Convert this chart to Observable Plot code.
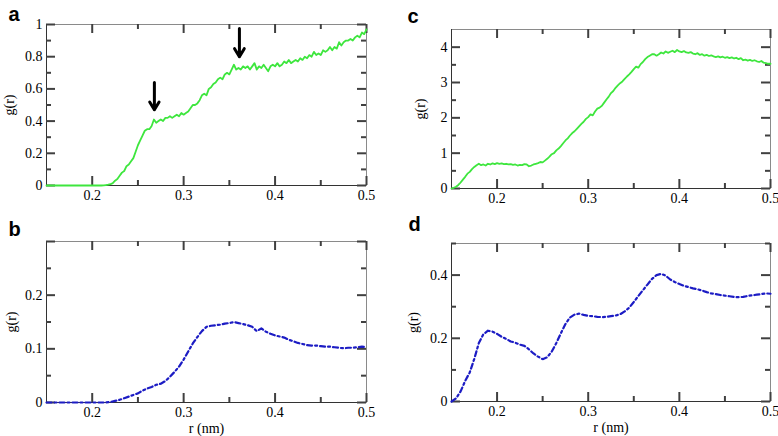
<!DOCTYPE html>
<html><head><meta charset="utf-8">
<script src="https://cdn.jsdelivr.net/npm/d3@7"></script>
<script src="https://cdn.jsdelivr.net/npm/@observablehq/plot@0.6"></script>
<style>
html,body{margin:0;padding:0;background:#fff;}
#chart{position:relative;width:778px;height:436px;overflow:hidden;background:#fff;}
#chart svg{position:absolute;overflow:visible;}
</style></head><body><div id="chart"></div>
<script>
// ---- data ----
const rStart = 0.15;
const stepGreen = 0.0025;   // sampling of the green curves (a, c)
const stepBlue = 0.005;     // sampling of the blue curves (b, d)

// panel a: g(r), rows of 10 samples (0.025 nm per row)
const gA = [
  0,0,0,0,0,0,0,0,0,0,
  0,0,0,0,0,0,0,0,0,0,
  0,0,0,0,0,0.001,0.003,0.005,0.008,0.015,
  0.03,0.04,0.06,0.08,0.09,0.12,0.13,0.15,0.17,0.21,
  0.25,0.28,0.31,0.34,0.35,0.35,0.37,0.41,0.39,0.40,
  0.41,0.40,0.42,0.42,0.43,0.42,0.43,0.44,0.43,0.45,
  0.44,0.45,0.46,0.48,0.50,0.50,0.51,0.53,0.56,0.57,
  0.56,0.60,0.61,0.63,0.64,0.66,0.67,0.66,0.69,0.70,
  0.69,0.72,0.75,0.72,0.73,0.72,0.74,0.73,0.74,0.72,
  0.74,0.76,0.72,0.74,0.73,0.75,0.73,0.71,0.74,0.75,
  0.74,0.76,0.74,0.75,0.77,0.76,0.78,0.76,0.77,0.78,
  0.77,0.79,0.78,0.80,0.79,0.81,0.80,0.83,0.81,0.82,
  0.81,0.84,0.83,0.84,0.86,0.84,0.86,0.85,0.89,0.87,
  0.89,0.90,0.90,0.91,0.90,0.92,0.93,0.92,0.95,0.94,
  0.97
];
// panel c
const gC = [
  0.00,0.02,0.05,0.10,0.17,0.25,0.33,0.42,0.47,0.55,
  0.61,0.66,0.70,0.66,0.68,0.65,0.70,0.68,0.71,0.69,
  0.72,0.70,0.71,0.69,0.70,0.68,0.69,0.67,0.68,0.65,
  0.67,0.66,0.69,0.68,0.63,0.65,0.68,0.70,0.72,0.75,
  0.74,0.79,0.84,0.90,0.97,1.00,1.08,1.13,1.20,1.28,
  1.36,1.42,1.50,1.57,1.62,1.69,1.76,1.83,1.89,1.97,
  2.02,2.10,2.07,2.18,2.26,2.29,2.34,2.43,2.52,2.60,
  2.70,2.76,2.85,2.92,2.98,3.03,3.10,3.17,3.23,3.30,
  3.38,3.45,3.42,3.52,3.58,3.66,3.72,3.76,3.80,3.80,
  3.76,3.80,3.85,3.82,3.88,3.84,3.87,3.90,3.86,3.92,
  3.88,3.86,3.89,3.85,3.84,3.86,3.82,3.80,3.83,3.78,
  3.80,3.76,3.78,3.75,3.77,3.74,3.72,3.74,3.71,3.73,
  3.70,3.72,3.69,3.71,3.68,3.70,3.66,3.69,3.63,3.65,
  3.62,3.64,3.61,3.63,3.60,3.58,3.61,3.56,3.55,3.53,
  3.53
];
// panel b, rows of 10 samples (0.05 nm per row)
const gB = [
  0,0,0,0,0,0,0,0,0,0,
  0,0,0,0,0.001,0.003,0.005,0.008,0.011,0.014,
  0.017,0.022,0.026,0.029,0.033,0.035,0.040,0.048,0.057,0.067,
  0.080,0.095,0.110,0.122,0.133,0.141,0.143,0.144,0.145,0.147,
  0.148,0.150,0.148,0.146,0.144,0.141,0.133,0.138,0.132,0.128,
  0.125,0.123,0.121,0.117,0.114,0.111,0.109,0.107,0.106,0.106,
  0.105,0.104,0.104,0.103,0.102,0.101,0.102,0.102,0.103,0.104,
  0.103
];
// panel d
const gD = [
  0.000,0.010,0.032,0.065,0.092,0.135,0.185,0.213,0.224,0.221,
  0.214,0.205,0.198,0.190,0.186,0.180,0.176,0.165,0.152,0.142,
  0.134,0.140,0.158,0.185,0.216,0.245,0.266,0.275,0.278,0.274,
  0.271,0.270,0.268,0.267,0.268,0.270,0.272,0.276,0.285,0.297,
  0.315,0.334,0.352,0.370,0.388,0.400,0.404,0.398,0.386,0.378,
  0.372,0.366,0.362,0.358,0.355,0.351,0.346,0.342,0.340,0.337,
  0.335,0.333,0.331,0.330,0.331,0.334,0.336,0.338,0.340,0.342,
  0.341
];

// arrows in panel a
const arrowX = [0.268, 0.361];
const arrowFrom = [0.64, 0.975];
const arrowTo = [0.47, 0.80];

// ticks
const xMajor = [0.2, 0.3, 0.4, 0.5];
const xMinor = [0.25, 0.35, 0.45];
const yMajorA = [0, 0.2, 0.4, 0.6, 0.8, 1], yMinorA = [0.1, 0.3, 0.5, 0.7, 0.9];
const yMajorB = [0, 0.1, 0.2, 0.3], yLabB = [0, 0.1, 0.2], yMinorB = [0.05, 0.15, 0.25];
const yMajorC = [0, 1, 2, 3, 4], yMinorC = [0.5, 1.5, 2.5, 3.5];
const yMajorD = [0, 0.2, 0.4], yMinorD = [0.1, 0.3, 0.5];

const panelLetters = ["a", "b", "c", "d"];
const xTitle = "r (nm)";
const yTitle = "g(r)";

// ---- build ----
const toRows = (vals, step) => vals.map((g, i) => ({r: +(rStart + i * step).toFixed(5), g}));
const green = "#3ee63e", blue = "#1c1cc4";
const tickStroke = "#404040";
const SERIF = "Liberation Serif";
const MAJ = 9, MIN = 5;

function panel(o) {
  const [mL, mR, mT, mB] = o.m;
  const iw = o.w - mL - mR, ih = o.h - mT - mB;
  const tk = {stroke: tickStroke, strokeWidth: 2};
  const marks = [
    Plot.frame({stroke: "#8a8a8a"}),
    Plot.ruleX([o.xDomain[0]], {stroke: "#333"}),
    Plot.ruleY([o.yDomain[0]], {stroke: "#333"}),
    // inward ticks on all four sides
    Plot.tickX(xMajor, {x: d => d, ...tk, insetTop: ih - MAJ}),
    Plot.tickX(xMajor, {x: d => d, ...tk, insetBottom: ih - MAJ}),
    Plot.tickX(xMinor, {x: d => d, ...tk, insetTop: ih - MIN}),
    Plot.tickX(xMinor, {x: d => d, ...tk, insetBottom: ih - MIN}),
    Plot.tickY(o.yMajor, {y: d => d, ...tk, insetRight: iw - MAJ}),
    Plot.tickY(o.yMajor, {y: d => d, ...tk, insetLeft: iw - MAJ}),
    Plot.tickY(o.yMinor, {y: d => d, ...tk, insetRight: iw - MIN}),
    Plot.tickY(o.yMinor, {y: d => d, ...tk, insetLeft: iw - MIN}),
    // tick labels
    Plot.axisX(xMajor, {anchor: "bottom", tickSize: 0, tickPadding: 5, fill: "black",
      tickFormat: d => String(d), label: null, fontFamily: SERIF, fontSize: 14}),
    Plot.axisY(o.yLab || o.yMajor, {anchor: "left", tickSize: 0, tickPadding: 4, fill: "black",
      tickFormat: d => String(d), label: null, fontFamily: SERIF, fontSize: 14}),
    // axis titles
    Plot.text([yTitle], {frameAnchor: "left", text: d => d, rotate: -90, textAnchor: "middle", lineAnchor: "middle",
      dx: -o.yTitleDist, fontFamily: SERIF, fontSize: 14, fill: "black"}),
    ...(o.xLabel ? [Plot.text([xTitle], {frameAnchor: "bottom", text: d => d, textAnchor: "middle", lineAnchor: "middle",
      dy: o.xTitleDist, fontFamily: SERIF, fontSize: 14, fill: "black"})] : []),
    Plot.line(o.data, {x: "r", y: "g", stroke: o.color, strokeWidth: o.width, strokeDasharray: o.dash}),
    ...(o.extra || []),
    Plot.text([o.letter], {frameAnchor: "top-left", text: d => d, textAnchor: "start", lineAnchor: "bottom",
      dx: o.letterDx, dy: o.letterDy, fontSize: 20, fontWeight: "bold", fontFamily: "Liberation Sans", fill: "black"})
  ];
  const svg = Plot.plot({
    width: o.w, height: o.h,
    marginLeft: mL, marginRight: mR, marginTop: mT, marginBottom: mB,
    x: {domain: o.xDomain},
    y: {domain: o.yDomain},
    marks
  });
  svg.setAttribute("font-family", SERIF);
  svg.setAttribute("font-size", 14);
  svg.style.left = o.left + "px";
  svg.style.top = o.top + "px";
  svg.style.background = "transparent";
  document.getElementById("chart").appendChild(svg);
}

const arrowsA = arrowX.map((x, i) => ({x, y1: arrowFrom[i], y2: arrowTo[i]}));

panel({
  data: toRows(gA, stepGreen), color: green, width: 1.8, dash: null,
  xDomain: [0.15, 0.5], yDomain: [0, 1], yMajor: yMajorA, yMinor: yMinorA,
  letter: panelLetters[0], letterDx: -38, letterDy: -4, yTitleDist: 37,
  left: 0, top: 0, w: 390, h: 215, m: [46, 24, 24, 30],
  extra: [Plot.arrow(arrowsA, {x1: "x", x2: "x", y1: "y1", y2: "y2", stroke: "black", strokeWidth: 3, headLength: 12, headAngle: 62})]
});
panel({
  data: toRows(gB, stepBlue), color: blue, width: 2.2, dash: "5,3,2,3",
  xDomain: [0.15, 0.5], yDomain: [0, 0.3], yMajor: yMajorB, yLab: yLabB, yMinor: yMinorB,
  letter: panelLetters[1], letterDx: -38, letterDy: -6, yTitleDist: 35, xLabel: true, xTitleDist: 26,
  left: 0, top: 215, w: 390, h: 221, m: [46, 24, 26, 34]
});
panel({
  data: toRows(gC, stepGreen), color: green, width: 1.8, dash: null,
  xDomain: [0.15, 0.5], yDomain: [0, 4.5], yMajor: yMajorC, yMinor: yMinorC,
  letter: panelLetters[2], letterDx: -44, letterDy: -7, yTitleDist: 31,
  left: 390, top: 0, w: 388, h: 215, m: [61, 8, 29, 27]
});
panel({
  data: toRows(gD, stepBlue), color: blue, width: 2.2, dash: "5,3,2,3",
  xDomain: [0.15, 0.5], yDomain: [0, 0.5], yMajor: yMajorD, yMinor: yMinorD,
  letter: panelLetters[3], letterDx: -43, letterDy: -13, yTitleDist: 38, xLabel: true, xTitleDist: 26,
  left: 390, top: 215, w: 388, h: 221, m: [61, 8, 28, 35]
});
</script></body></html>
